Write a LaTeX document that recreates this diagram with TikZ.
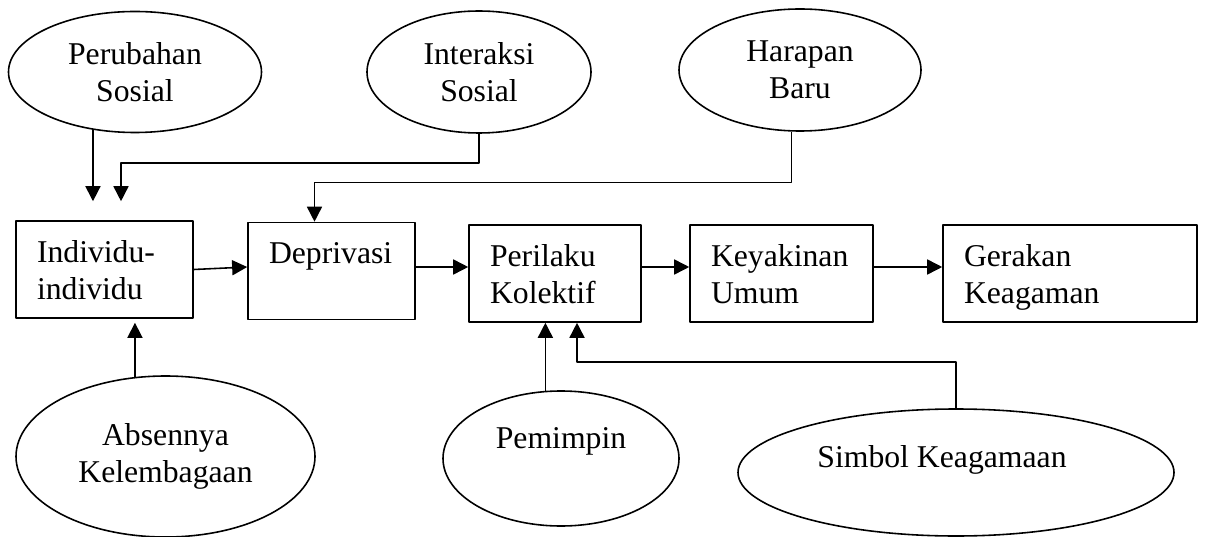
\documentclass[tikz,border=0pt]{standalone}
\usepackage{fontspec}
\setmainfont{Liberation Serif}
\usetikzlibrary{arrows.meta,shapes.geometric}
\newlength{\px}
\setlength{\px}{0.3785pt}
\newcommand{\isikotak}[2]{\parbox[c][97\px][t]{#1\px}{\vspace*{20\px}\raggedright\leftskip=21\px #2}}
\begin{document}
\begin{tikzpicture}[x=\px,y=-\px,>={Triangle[length=5.7pt,width=5.7pt]},line join=round,
	font=\fontsize{12pt}{14pt}\selectfont,line width=0.6pt,
	kotak/.style={draw,rectangle,inner sep=0pt},
	elips/.style={draw,ellipse,inner sep=0pt,align=center}]
	\useasboundingbox (0,0) rectangle (1208,537);
	% lingkaran atas
	\node[elips,minimum width=253*\px,minimum height=121*\px] (perubahan) at (135,72) {Perubahan\\Sosial};
	\node[elips,minimum width=224*\px,minimum height=122*\px] (interaksi) at (479,72) {Interaksi\\Sosial};
	\node[elips,minimum width=242*\px,minimum height=122*\px] (harapan) at (800,70) {Harapan\\Baru};
	% kotak
	\node[kotak] (ind) at (104.5,269.5) {\isikotak{177}{Individu-\\individu}};
	\node[kotak] (dep) at (331.5,271) {\isikotak{167}{Deprivasi}};
	\node[kotak] (per) at (555,273.5) {\isikotak{172}{Perilaku\\Kolektif}};
	\node[kotak] (key) at (781.5,273.5) {\isikotak{183}{Keyakinan\\Umum}};
	\node[kotak] (ger) at (1070,273.5) {\isikotak{254}{Gerakan\\Keagaman}};
	% lingkaran bawah
	\node[elips,minimum width=299*\px,minimum height=161*\px] (absen) at (165.5,456.5) {Absennya\\Kelembagaan};
	\node[elips,minimum width=236*\px,minimum height=135*\px,text height=22*\px,text depth=43*\px] (pemimpin) at (561,458.5) {Pemimpin};
	\node[elips,minimum width=436*\px,minimum height=127*\px,text height=22*\px,text depth=33*\px] (simbol) at (956,472.5) {Simbol Keagamaan\hspace*{28\px}};
	% panah
	\draw[->,shorten >=19*\px] (perubahan.234) -- (perubahan.234 |- ind.north);
	\draw[->,shorten >=19*\px] (interaksi.south) -- ++(0,29) -| ([xshift=16.5*\px]ind.north);
	\draw[->] (harapan.262) -- ++(0,51) -| ([xshift=-17*\px]dep.north);
	\draw[->] (ind.east) -- ([yshift=4*\px]dep.west);
	\draw[->] ([yshift=4*\px]dep.east) -- ([yshift=4*\px]dep.east -| per.west);
	\draw[->] ([yshift=6.5*\px]per.east) -- ([yshift=6.5*\px]key.west);
	\draw[->] ([yshift=6.5*\px]key.east) -- ([yshift=6.5*\px]ger.west);
	\draw[->,shorten >=4*\px] (absen.111) -- (absen.111 |- ind.south);
	\draw[->] (pemimpin.103) -- (pemimpin.103 |- per.south);
	\draw[->] (simbol.north) -- ++(0,-46) -| ([xshift=22*\px]per.south);
\end{tikzpicture}
\end{document}
